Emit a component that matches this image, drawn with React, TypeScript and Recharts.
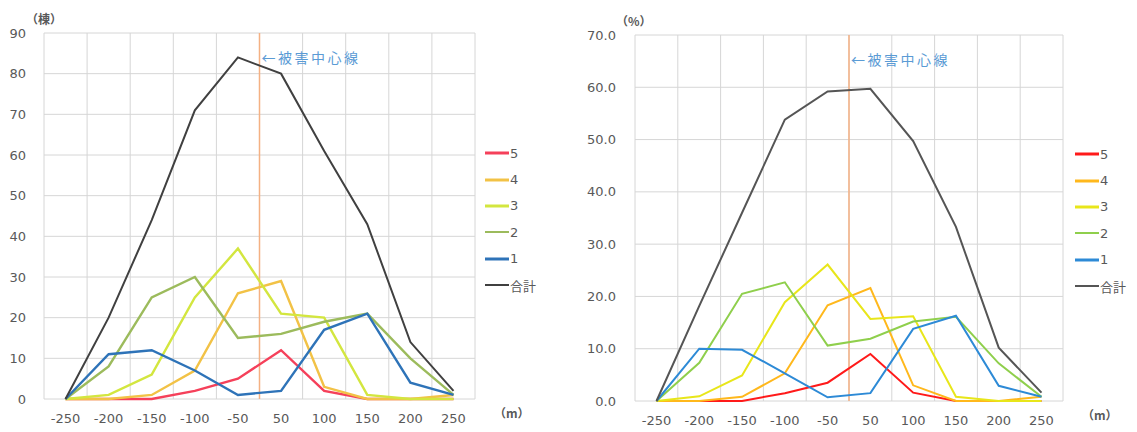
import React from "react";
import { LineChart, Line, XAxis, YAxis, CartesianGrid, ReferenceLine } from "recharts";

// distance bands from the damage centre line (m)
const X_LABELS = ["-250", "-200", "-150", "-100", "-50", "50", "100", "150", "200", "250"];
const SERIES_NAMES = ["5", "4", "3", "2", "1", "合計"];

// counts (棟)
const CNT_5 = [0, 0, 0, 2, 5, 12, 2, 0, 0, 0];
const CNT_4 = [0, 0, 1, 7, 26, 29, 3, 0, 0, 1];
const CNT_3 = [0, 1, 6, 25, 37, 21, 20, 1, 0, 0];
const CNT_2 = [0, 8, 25, 30, 15, 16, 19, 21, 10, 1];
const CNT_1 = [0, 11, 12, 7, 1, 2, 17, 21, 4, 1];
const CNT_TOTAL = [0, 20, 44, 71, 84, 80, 61, 43, 14, 2];

// share (%)
const PCT_5 = [0, 0, 0, 1.5, 3.5, 9.0, 1.6, 0, 0, 0];
const PCT_4 = [0, 0, 0.8, 5.3, 18.3, 21.6, 3.0, 0, 0, 0.8];
const PCT_3 = [0, 0.9, 4.9, 18.9, 26.1, 15.7, 16.2, 0.8, 0, 0];
const PCT_2 = [0, 7.3, 20.5, 22.7, 10.6, 11.9, 15.2, 16.1, 7.2, 0.8];
const PCT_1 = [0, 10.0, 9.8, 5.3, 0.7, 1.5, 13.8, 16.3, 2.9, 0.8];
const PCT_TOTAL = [0, 18.2, 36.0, 53.8, 59.2, 59.7, 49.7, 33.3, 10.2, 1.6];

const CNT_TICKS = [0, 10, 20, 30, 40, 50, 60, 70, 80, 90];
const PCT_TICKS = [0, 10, 20, 30, 40, 50, 60, 70];

const LEFT_COLORS = ["#f5405a", "#f2c246", "#d3e63f", "#9cbb5c", "#2e73b8", "#404040"];
const RIGHT_COLORS = ["#ff1a1a", "#ffb81c", "#e8e61a", "#8fcf4c", "#2d8ad6", "#555555"];

const CENTER_COLOR = "#f4b183";
const LABEL_BLUE = "#5b9bd5";
const TEXT = "#595959";
const GRID = "#d6d6d6";
const FONT = "'DejaVu Sans', 'Noto Sans CJK JP', sans-serif";
const CJK = "'Noto Sans CJK JP', sans-serif";

// centre line sits between "-50" and "50"
const CENTER_POS = X_LABELS.indexOf("50") - 0.5;

function rows(series: number[][]) {
  return X_LABELS.map((d, i) => {
    const r: Record<string, string | number> = { d, i };
    series.forEach((s, k) => (r["s" + k] = s[i]));
    return r;
  });
}

const leftData = rows([CNT_5, CNT_4, CNT_3, CNT_2, CNT_1, CNT_TOTAL]);
const rightData = rows([PCT_5, PCT_4, PCT_3, PCT_2, PCT_1, PCT_TOTAL]);

const bandLines = (props: any) => {
  const o = props.offset;
  return Array.from({ length: X_LABELS.length + 1 }, (_, i) => o.left + (i * o.width) / X_LABELS.length);
};

const centerLabel = (props: any) => {
  const vb = props.viewBox || {};
  return (
    <text
      x={vb.x + 2}
      y={vb.y + 30}
      fill={LABEL_BLUE}
      fontSize={14}
      letterSpacing={2.5}
      fontFamily={CJK}
    >
      ←被害中心線
    </text>
  );
};

function LegendBox({ left, top, colors }: { left: number; top: number; colors: string[] }) {
  return (
    <div style={{ position: "absolute", left, top, fontFamily: FONT, fontSize: 13, color: TEXT }}>
      {SERIES_NAMES.map((n, i) => (
        <div key={n} style={{ height: 26.4, display: "flex", alignItems: "center" }}>
          <svg width={24} height={4} style={{ marginRight: 1 }}>
            <line x1={0} y1={2} x2={24} y2={2} stroke={colors[i]} strokeWidth={i === 3 || i === 5 ? 2 : 3} />
          </svg>
          <span>{n}</span>
        </div>
      ))}
    </div>
  );
}

function Panel(props: {
  x: number;
  width: number;
  top: number;
  bottom: number;
  right: number;
  yWidth: number;
  yMargin: number;
  data: any[];
  ticks: number[];
  max: number;
  fmt: (v: number) => string;
  colors: string[];
  lineWidth: number;
}) {
  return (
    <div style={{ position: "absolute", left: props.x, top: 0 }}>
      <LineChart
        width={props.width}
        height={432}
        data={props.data}
        margin={{ top: props.top, right: props.right, bottom: props.bottom, left: 0 }}
      >
        <CartesianGrid stroke={GRID} xAxisId="cat" verticalCoordinatesGenerator={bandLines} />
        <XAxis
          xAxisId="cat"
          dataKey="d"
          height={30}
          padding={{ left: 21.5, right: 21.5 }}
          axisLine={false}
          tickLine={false}
          tickSize={6}
          tickMargin={9}
          interval={0}
          tick={{ fill: TEXT, fontSize: 13, fontFamily: FONT }}
        />
        <XAxis
          xAxisId="mid"
          dataKey="i"
          type="number"
          domain={[-0.5, X_LABELS.length - 0.5]}
          allowDataOverflow
          hide
        />
        <YAxis
          width={props.yWidth}
          domain={[0, props.max]}
          ticks={props.ticks}
          interval={0}
          axisLine={false}
          tickLine={false}
          tickSize={6}
          tickMargin={props.yMargin}
          tickFormatter={props.fmt}
          tick={{ fill: TEXT, fontSize: 13, fontFamily: FONT }}
        />
        <ReferenceLine
          xAxisId="mid"
          x={CENTER_POS}
          stroke={CENTER_COLOR}
          strokeWidth={1.5}
          label={centerLabel}
        />
        {SERIES_NAMES.map((n, i) => (
          <Line
            key={n}
            xAxisId="cat"
            dataKey={"s" + i}
            name={n}
            stroke={props.colors[i]}
            strokeWidth={i === 5 ? 2 : props.lineWidth}
            dot={false}
            activeDot={false}
            isAnimationActive={false}
          />
        ))}
      </LineChart>
    </div>
  );
}

const unit = (text: string, left: number, top: number) => (
  <div
    style={{
      position: "absolute",
      left,
      top,
      fontFamily: CJK,
      fontSize: 12,
      fontWeight: 700,
      color: TEXT,
      lineHeight: "14px",
      whiteSpace: "nowrap",
    }}
  >
    {text}
  </div>
);

export default function App() {
  return (
    <div style={{ position: "absolute", left: 0, top: 0, width: 1137, height: 432, background: "#fff", overflow: "hidden" }}>
      <Panel
        x={0}
        width={560}
        top={33}
        bottom={3}
        right={85}
        yWidth={44}
        yMargin={12}
        data={leftData}
        ticks={CNT_TICKS}
        max={90}
        fmt={(v) => String(v)}
        colors={LEFT_COLORS}
        lineWidth={2.4}
      />
      <Panel
        x={560}
        width={577}
        top={35}
        bottom={1}
        right={74}
        yWidth={75}
        yMargin={13}
        data={rightData}
        ticks={PCT_TICKS}
        max={70}
        fmt={(v) => v.toFixed(1)}
        colors={RIGHT_COLORS}
        lineWidth={2}
      />
      {unit("（棟）", 26, 12)}
      {unit("（%）", 616, 14)}
      {unit("（m）", 494, 406)}
      {unit("（m）", 1082, 408)}
      <LegendBox left={485} top={140} colors={LEFT_COLORS} />
      <LegendBox left={1075} top={141} colors={RIGHT_COLORS} />
    </div>
  );
}
